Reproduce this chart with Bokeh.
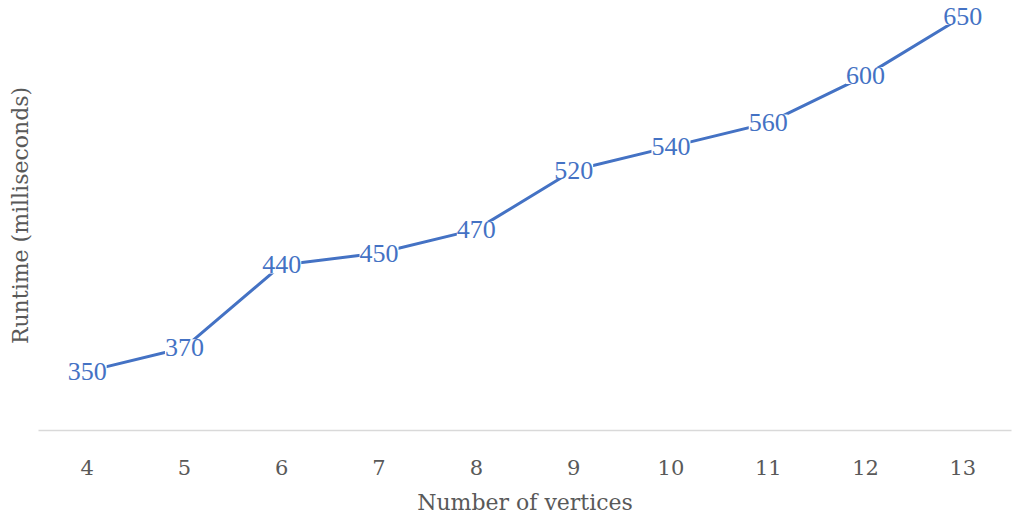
from bokeh.plotting import figure
from bokeh.models import ColumnDataSource, LabelSet, Range1d, FixedTicker
from bokeh.embed import file_html
from bokeh.resources import INLINE

vertices = [4, 5, 6, 7, 8, 9, 10, 11, 12, 13]
runtime_ms = [350, 370, 440, 450, 470, 520, 540, 560, 600, 650]
labels = [str(v) for v in runtime_ms]

src = ColumnDataSource(dict(x=vertices, y=runtime_ms, lbl=labels))

FONT = "DejaVu Serif"
LFONT = "Liberation Serif"
BLUE = "#4472C4"
GRAY = "#595959"

p = figure(width=1013, height=519, output_backend="svg", toolbar_location=None,
           x_range=Range1d(3.5, 13.5), y_range=Range1d(300, 663.5),
           min_border_left=38, min_border_right=2, min_border_top=0, min_border_bottom=89)
p.outline_line_color = None
p.xgrid.visible = False
p.ygrid.visible = False

p.line("x", "y", source=src, line_color=BLUE, line_width=3)

ls = LabelSet(x="x", y="y", text="lbl", source=src, text_align="center", text_baseline="middle",
              text_font=LFONT, text_font_size="26px", text_color=BLUE, text_font_style="normal",
              background_fill_color="white", background_fill_alpha=1.0)
p.add_layout(ls)

xa = p.xaxis[0]
xa.ticker = FixedTicker(ticks=vertices)
xa.axis_line_color = "#d9d9d9"
xa.axis_line_width = 1.5
xa.major_tick_line_color = None
xa.minor_tick_line_color = None
xa.major_label_text_font = FONT
xa.major_label_text_font_size = "21px"
xa.major_label_text_color = GRAY
xa.major_label_standoff = 23
xa.axis_label = "Number of vertices"
xa.axis_label_text_font = FONT
xa.axis_label_text_font_size = "22px"
xa.axis_label_text_font_style = "normal"
xa.axis_label_text_color = GRAY
xa.axis_label_standoff = 12

ya = p.yaxis[0]
ya.ticker = FixedTicker(ticks=[])
ya.axis_line_color = None
ya.major_tick_line_color = None
ya.minor_tick_line_color = None
ya.major_label_standoff = 0
ya.axis_label = "Runtime (milliseconds)"
ya.axis_label_text_font = FONT
ya.axis_label_text_font_size = "22px"
ya.axis_label_text_font_style = "normal"
ya.axis_label_text_color = GRAY
ya.axis_label_standoff = 6

open("out.html", "w").write(file_html(p, INLINE))
